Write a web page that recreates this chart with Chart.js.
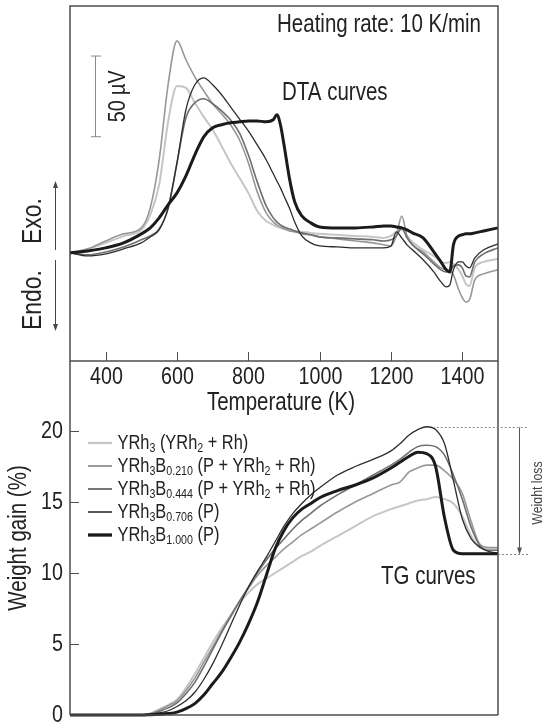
<!DOCTYPE html>
<html>
<head>
<meta charset="utf-8">
<script src="https://cdn.jsdelivr.net/npm/chart.js@4.4.1/dist/chart.umd.min.js"></script>
<style>
  html, body { margin: 0; padding: 0; background: #fff; }
  #wrap { position: relative; width: 542px; height: 724px; overflow: hidden; }
  #wrap canvas { position: absolute; left: 0; top: 0; }
</style>
</head>
<body>
<div id="wrap">
  <canvas id="chart-dta" width="542" height="724"></canvas>
  <canvas id="chart-tg" width="542" height="724"></canvas>
</div>
<script>
// font sempit: Liberation Sans dipadatkan horizontal
const FONT = '"Liberation Sans", Arial, sans-serif';
const NARROW = 0.82;

// sampel (teks dalam {} = subscript)
const sampleLabels = [
    "YRh{3} (YRh{2} + Rh)",
    "YRh{3}B{0.210} (P + YRh{2} + Rh)",
    "YRh{3}B{0.444} (P + YRh{2} + Rh)",
    "YRh{3}B{0.706} (P)",
    "YRh{3}B{1.000} (P)",
];
const lineColors = ["#c6c6c6", "#979797", "#6f6f6f", "#2c2c2c", "#1b1b1b"];
const lineWidths = [2, 1.6, 1.6, 1.3, 3];

const tempTicks = [400, 600, 800, 1000, 1200, 1400];
const weightTicks = [0, 5, 10, 15, 20];

// DTA (µV, relatif terhadap awal kurva)
const dtaTemps = [300, 350, 400, 450, 500, 525, 550, 575, 600, 625, 650, 675, 700, 725, 750, 775, 800, 825, 850, 870,
    880, 890, 900, 915, 930, 950, 975, 1000, 1050, 1100, 1150, 1180, 1200, 1215, 1230, 1245, 1260, 1290, 1320, 1340,
    1355, 1365, 1375, 1390, 1400, 1410, 1420, 1435, 1460, 1500];
const dtaYRh3 = [0, 2.5, 6.2, 10.5, 14.3, 23.6, 42.2, 81.2, 103.5, 102.3, 93.0, 84.3, 76.3, 66.3, 55.8, 46.5, 37.2, 26.0, 19.8, 17.4,
    16.1, 15.5, 14.9, 14.3, 13.6, 13.0, 12.4, 11.8, 11.2, 10.5, 9.9, 9.3, 10.5, 13.0, 14.3, 10.5, 6.8, 1.9, -1.9, -5.6,
    -6.2, -5.6, -6.8, -10.5, -14.3, -19.2, -20.5, -9.3, -5.6, -3.7];
const dtaB0210 = [0, 2.5, 7.4, 11.8, 15.5, 27.9, 57.7, 104.2, 131.4, 119.7, 109.1, 100.4, 92.4, 86.2, 79.4, 70.1, 55.8, 37.8, 24.8, 19.2,
    17.4, 16.1, 14.9, 13.6, 13.0, 11.8, 11.2, 9.9, 8.7, 7.4, 6.2, 5.0, 4.3, 10.5, 22.9, 10.5, 5.0, 0.6, -5.6, -9.3,
    -10.5, -11.2, -13.6, -22.9, -27.9, -30.4, -29.1, -16.7, -13.0, -10.5];
const dtaB0444 = [0, -1.2, 0.6, 3.7, 8.1, 10.5, 14.9, 27.3, 55.8, 83.7, 93.0, 95.5, 92.4, 88.0, 82.5, 74.4, 60.8, 44.0, 29.1, 21.7,
    19.2, 17.4, 16.1, 14.9, 13.6, 12.4, 11.2, 9.9, 9.3, 8.7, 8.1, 7.4, 8.1, 10.5, 15.5, 9.3, 5.0, -0.6, -6.8, -10.5,
    -11.8, -11.2, -8.1, -7.4, -9.3, -14.3, -14.9, -5.6, -0.6, 3.1];
const dtaB0706 = [0, -1.9, -0.6, 2.5, 6.2, 9.9, 14.3, 27.9, 55.8, 88.7, 104.2, 108.5, 104.2, 98.0, 90.5, 83.1, 75.6, 66.9, 57.7, 49.0,
    44.6, 40.3, 35.3, 27.9, 19.2, 10.5, 6.2, 4.3, 3.7, 3.1, 3.1, 3.1, 4.3, 13.0, 9.3, 5.0, 1.9, -4.3, -11.8, -18.0,
    -21.1, -19.8, -10.5, -5.6, -5.6, -8.1, -9.3, -3.1, 1.9, 5.6];
const dtaB1000 = [0, 1.2, 3.1, 6.2, 11.8, 15.5, 21.7, 29.8, 37.2, 47.7, 60.8, 71.9, 77.5, 79.4, 80.6, 81.2, 81.8, 81.8, 81.2, 82.5,
    85.6, 79.4, 67.0, 46.5, 31.6, 22.9, 18.6, 16.1, 15.5, 15.5, 16.1, 16.7, 16.7, 16.1, 15.5, 14.3, 12.4, 9.3, 0.6, -5.6,
    -10.5, -11.8, 5.0, 10.5, 11.2, 11.8, 11.8, 12.4, 13.6, 15.5];
const scaleBarUV = 50;
const scaleBarStart = 72;

// TG (weight gain %)
const tgTemps = [300, 500, 525, 550, 575, 600, 625, 650, 675, 700, 725, 750, 775, 800, 825, 850, 875, 900, 925, 950,
    975, 1000, 1050, 1100, 1150, 1200, 1225, 1250, 1275, 1300, 1325, 1350, 1375, 1400, 1425, 1450, 1475, 1500];
const tgYRh3 = [0, 0, 0.1, 0.4, 0.7, 1.1, 1.9, 2.9, 4.0, 5.1, 6.1, 7.0, 7.9, 8.6, 9.2, 9.6, 10.0, 10.4, 10.8, 11.2,
    11.5, 11.9, 12.6, 13.3, 14.0, 14.5, 14.7, 14.9, 15.1, 15.2, 15.35, 15.2, 14.9, 14.0, 12.6, 11.8, 11.75, 11.7];
const tgB0210 = [0, 0, 0.1, 0.35, 0.65, 1.0, 1.7, 2.6, 3.7, 4.8, 5.9, 7.0, 8.0, 8.9, 9.8, 10.5, 11.1, 11.7, 12.2, 12.7,
    13.1, 13.5, 14.3, 15.0, 15.6, 16.2, 16.4, 17.1, 17.4, 17.6, 17.6, 17.2, 16.6, 15.6, 13.6, 12.0, 11.8, 11.8];
const tgB0444 = [0, 0, 0.08, 0.25, 0.5, 0.85, 1.5, 2.3, 3.4, 4.6, 5.8, 6.9, 8.0, 9.0, 10.0, 10.9, 11.7, 12.4, 13.1, 13.7,
    14.2, 14.7, 15.5, 16.2, 16.9, 17.6, 18.0, 18.5, 18.9, 19.0, 18.9, 18.3, 16.9, 15.2, 13.2, 11.9, 11.6, 11.6];
const tgB0706 = [0, 0, 0.05, 0.15, 0.3, 0.6, 1.0, 1.6, 2.5, 3.6, 4.9, 6.3, 7.7, 9.0, 10.1, 11.1, 12.2, 13.3, 14.2, 14.9,
    15.5, 16.0, 16.9, 17.5, 18.0, 18.6, 19.1, 19.7, 20.1, 20.3, 20.1, 19.1, 16.5, 13.8, 12.4, 11.8, 11.5, 11.4];
const tgB1000 = [0, 0, 0.02, 0.05, 0.1, 0.2, 0.45, 0.8, 1.4, 2.2, 3.0, 4.0, 5.1, 6.4, 7.9, 9.8, 11.7, 13.0, 13.9, 14.5,
    14.9, 15.3, 15.8, 16.2, 16.7, 17.4, 17.8, 18.2, 18.5, 18.4, 17.5, 13.9, 11.6, 11.35, 11.35, 11.35, 11.35, 11.35];

const FRAME = "#4d4d4d";
const INK = "#222";

function makeDatasets(xs, series) {
    return series.map((ys, i) => ({
        label: sampleLabels[i],
        data: xs.map((x, k) => ({ x, y: ys[k] })),
        borderColor: lineColors[i],
        borderWidth: lineWidths[i],
        pointRadius: 0,
        cubicInterpolationMode: "monotone",
        fill: false,
        clip: false,
        order: series.length - 1 - i,
    }));
}

// teks sempit, bisa diputar
function text(ctx, str, x, y, size, align = "left", rot = 0, color = INK) {
    ctx.save();
    ctx.translate(x, y);
    if (rot) ctx.rotate(rot);
    ctx.scale(NARROW, 1);
    ctx.font = `${size}px ${FONT}`;
    ctx.fillStyle = color;
    ctx.textAlign = align;
    ctx.textBaseline = "middle";
    ctx.fillText(str, 0, 0);
    ctx.restore();
}

// teks dengan subscript: "YRh{3}" -> YRh + 3 kecil
function richText(ctx, str, x, y, size, subSize) {
    ctx.save();
    ctx.translate(x, y);
    ctx.scale(NARROW, 1);
    ctx.fillStyle = INK;
    ctx.textBaseline = "middle";
    let cx = 0;
    str.split(/(\{[^}]*\})/).filter(Boolean).forEach((part) => {
        const sub = part.startsWith("{");
        const t = sub ? part.slice(1, -1) : part;
        ctx.font = `${sub ? subSize : size}px ${FONT}`;
        ctx.fillText(t, cx, sub ? 5 : 0);
        cx += ctx.measureText(t).width;
    });
    ctx.restore();
}

function line(ctx, x1, y1, x2, y2) {
    ctx.beginPath();
    ctx.moveTo(x1, y1);
    ctx.lineTo(x2, y2);
    ctx.stroke();
}

function arrowHead(ctx, x, y, dir) {
    ctx.beginPath();
    ctx.moveTo(x, y);
    ctx.lineTo(x - 2.5, y - dir * 7);
    ctx.lineTo(x + 2.5, y - dir * 7);
    ctx.closePath();
    ctx.fill();
}

const dtaDecor = {
    id: "dtaDecor",
    afterDraw(chart) {
        const { ctx, chartArea: a, scales: { x, y } } = chart;
        ctx.save();
        ctx.strokeStyle = FRAME;
        ctx.lineWidth = 1.5;
        ctx.strokeRect(a.left, a.top, a.right - a.left, a.bottom - a.top);
        ctx.lineWidth = 1;
        tempTicks.forEach((t) => {
            const px = Math.round(x.getPixelForValue(t)) + 0.5;
            line(ctx, px, a.bottom, px, a.bottom - 9);
            text(ctx, String(t), px, a.bottom + 16, 24, "center");
        });

        // skala 50 µV
        const yb = y.getPixelForValue(scaleBarStart);
        const yt = y.getPixelForValue(scaleBarStart + scaleBarUV);
        ctx.strokeStyle = "#8a8a8a";
        line(ctx, a.left + 25.5, yt, a.left + 25.5, yb);
        line(ctx, a.left + 21, yt, a.left + 31, yt);
        line(ctx, a.left + 21, yb, a.left + 31, yb);
        text(ctx, "50 \u00b5V", a.left + 48, (yt + yb) / 2, 24, "center", -Math.PI / 2);

        // Exo / Endo
        ctx.strokeStyle = "#444";
        ctx.fillStyle = "#444";
        line(ctx, 55.5, 250, 55.5, 186);
        arrowHead(ctx, 55.5, 181, -1);
        line(ctx, 55.5, 260, 55.5, 326);
        arrowHead(ctx, 55.5, 331, 1);
        text(ctx, "Exo.", 33, 221, 28, "center", -Math.PI / 2);
        text(ctx, "Endo.", 33, 300, 28, "center", -Math.PI / 2);

        text(ctx, "Heating rate: 10 K/min", a.right - 17, a.top + 19, 25, "right");
        text(ctx, "DTA curves", 282, 93, 25, "left");
        text(ctx, "Temperature (K)", 281, 403.5, 25, "center");
        ctx.restore();
    },
};

const tgDecor = {
    id: "tgDecor",
    afterDraw(chart) {
        const { ctx, chartArea: a, scales: { x, y } } = chart;
        ctx.save();
        ctx.strokeStyle = FRAME;
        ctx.lineWidth = 1.5;
        line(ctx, a.left, a.top, a.left, a.bottom);
        line(ctx, a.right, a.top, a.right, a.bottom);
        line(ctx, a.left, a.bottom, a.right, a.bottom);
        ctx.lineWidth = 1;
        weightTicks.forEach((v) => {
            const py = Math.round(y.getPixelForValue(v)) + 0.5;
            if (v > 0) line(ctx, a.left, py, a.left + 9, py);
            text(ctx, String(v), a.left - 7, py, 24, "right");
        });

        text(ctx, "Weight gain (%)", 19, (a.top + a.bottom) / 2, 25, "center", -Math.PI / 2);

        // legenda
        sampleLabels.forEach((lbl, i) => {
            const ry = a.top + 82 + i * 23;
            ctx.strokeStyle = lineColors[i];
            ctx.lineWidth = lineWidths[i] + 0.3;
            line(ctx, a.left + 18, ry, a.left + 42, ry);
            richText(ctx, lbl, a.left + 47.5, ry, 20, 13);
        });

        text(ctx, "TG curves", 381, 577, 25, "left");

        // weight loss
        const peak = Math.max(...tgB0706);
        const peakT = tgTemps[tgB0706.indexOf(peak)];
        const yTop = Math.round(y.getPixelForValue(peak)) + 0.5;
        const yBot = Math.round(y.getPixelForValue(tgB1000[tgB1000.length - 1])) + 0.5;
        ctx.lineWidth = 1;
        ctx.strokeStyle = "#888";
        ctx.setLineDash([2, 2]);
        line(ctx, x.getPixelForValue(peakT) + 6, yTop, 528, yTop);
        line(ctx, a.right, yBot, 528, yBot);
        ctx.setLineDash([]);
        ctx.strokeStyle = "#555";
        ctx.fillStyle = "#555";
        line(ctx, 519.5, yTop, 519.5, yBot - 5);
        arrowHead(ctx, 519.5, yBot, 1);
        text(ctx, "Weight loss", 537.5, (yTop + yBot) / 2 + 2, 15, "center", -Math.PI / 2, "#444");
        ctx.restore();
    },
};

function initDtaChart() {
    const canvas = document.getElementById("chart-dta");
    canvas.chart = new Chart(canvas, {
        type: "line",
        data: { datasets: makeDatasets(dtaTemps, [dtaYRh3, dtaB0210, dtaB0444, dtaB0706, dtaB1000]) },
        options: {
            responsive: false,
            animation: false,
            events: [],
            layout: { padding: { left: 70, right: 44, top: 6, bottom: 293 } },
            plugins: { legend: { display: false }, tooltip: { enabled: false } },
            scales: {
                x: {
                    type: "linear",
                    min: 300,
                    max: 1500,
                    afterBuildTicks: (scale) => { scale.ticks = tempTicks.map((v) => ({ value: v })); },
                    afterFit: (scale) => { scale.height = 70; },
                    ticks: { display: false },
                    grid: { display: false, drawTicks: false },
                    border: { display: false },
                },
                y: { display: false, min: -67, max: 153 },
            },
        },
        plugins: [dtaDecor],
    });
}

function initTgChart() {
    const canvas = document.getElementById("chart-tg");
    canvas.chart = new Chart(canvas, {
        type: "line",
        data: { datasets: makeDatasets(tgTemps, [tgYRh3, tgB0210, tgB0444, tgB0706, tgB1000]) },
        options: {
            responsive: false,
            animation: false,
            events: [],
            layout: { padding: { left: 0, right: 44, top: 361, bottom: 9 } },
            plugins: { legend: { display: false }, tooltip: { enabled: false } },
            scales: {
                x: { type: "linear", display: false, min: 300, max: 1500 },
                y: {
                    min: 0,
                    max: 24.93,
                    afterBuildTicks: (scale) => { scale.ticks = weightTicks.map((v) => ({ value: v })); },
                    afterFit: (scale) => { scale.width = 70; },
                    ticks: { display: false },
                    grid: { display: false, drawTicks: false },
                    border: { display: false },
                },
            },
        },
        plugins: [tgDecor],
    });
}

document.addEventListener("DOMContentLoaded", () => {
    initDtaChart();
    initTgChart();
});
</script>
</body>
</html>
